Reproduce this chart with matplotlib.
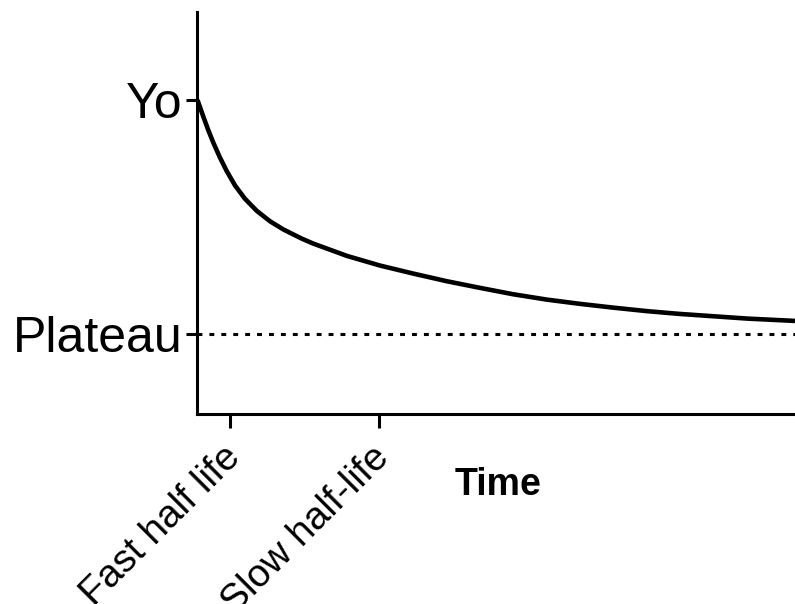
import matplotlib
matplotlib.use('Agg')
import matplotlib.pyplot as plt
from matplotlib.transforms import ScaledTranslation

plt.rcParams['font.family'] = ['Liberation Sans', 'DejaVu Sans']

# curve: time (0..60) vs signal (Plateau = 0, Yo = 1)
time = [0, 0.58, 1.08, 1.59, 2.26, 2.93, 3.77, 4.77, 5.94, 7.28, 8.62,
        10.46, 11.6, 15.0, 18.3, 21.6, 25.0, 28.4, 31.7, 35.1, 38.4, 41.7,
        45.1, 48.4, 51.8, 55.2, 60.0]
signal = [1.0, 0.930, 0.872, 0.818, 0.754, 0.697, 0.635, 0.578, 0.527,
          0.482, 0.447, 0.408, 0.387, 0.334, 0.293, 0.259, 0.226, 0.197,
          0.170, 0.147, 0.129, 0.113, 0.098, 0.086, 0.076, 0.066, 0.056]

plateau = 0.0
y_ticks = [1.0, 0.0]
y_labels = ['Yo', 'Plateau']
x_ticks = [3.3, 18.2]
x_labels = ['Fast half life', 'Slow half-life']


def main():
    fig = plt.figure(figsize=(7.95, 6.04), dpi=100)
    ax = fig.add_axes([0.2484, 0.3141, 0.7516, 0.6659])

    ax.plot(time, signal, color='black', lw=3.3, solid_capstyle='butt',
            solid_joinstyle='round')
    ax.axhline(plateau, color='black', lw=2.2, linestyle=(0, (1.6, 2.3)))

    ax.set_xlim(0, 60)
    ax.set_ylim(-0.343, 1.376)

    for side in ['top', 'right']:
        ax.spines[side].set_visible(False)
    for side in ['left', 'bottom']:
        ax.spines[side].set_linewidth(2.2)

    ax.set_yticks(y_ticks)
    ax.set_yticklabels(y_labels, fontsize=36)
    ax.tick_params(axis='y', length=8, width=2.2, pad=3)

    ax.set_xticks(x_ticks)
    ax.set_xticklabels(x_labels, fontsize=28, rotation=45, ha='right',
                       va='center', rotation_mode='anchor')
    ax.tick_params(axis='x', length=10, width=2.2, pad=17)
    shift = ScaledTranslation(0.05, 0, fig.dpi_scale_trans)
    for label in ax.get_xticklabels():
        label.set_transform(label.get_transform() + shift)

    ax.set_xlabel('Time', fontsize=27, fontweight='bold', va='baseline')
    ax.xaxis.set_label_coords(0.503, -0.2006)

    fig.savefig('out.png', dpi=100)


if __name__ == "__main__":
    main()
